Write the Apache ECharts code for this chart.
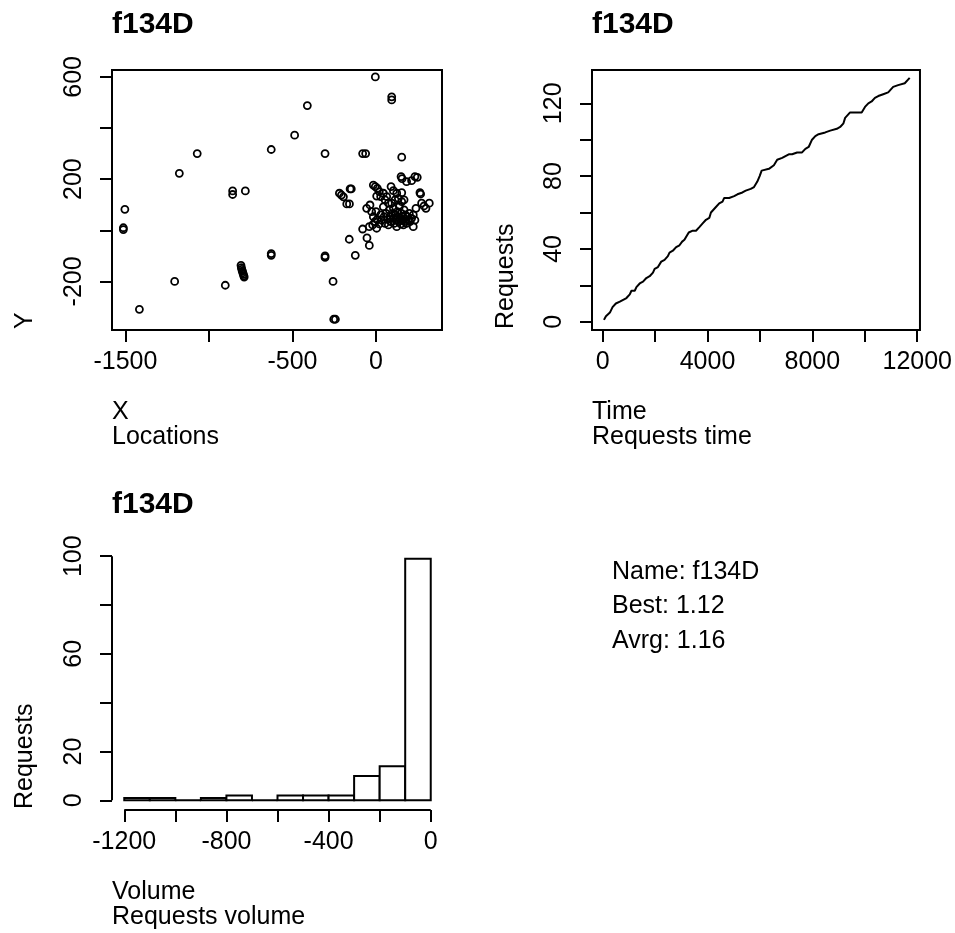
<!DOCTYPE html>
<html>
<head>
<meta charset="utf-8">
<script src="https://cdn.jsdelivr.net/npm/echarts@6/dist/echarts.min.js"></script>
<style>
html,body{margin:0;padding:0;background:#fff;}
#chart{width:955px;height:933px;}
</style>
</head>
<body>
<div id="chart"></div>
<script>
// ---------- data ----------
const chartTitle = "f134D";
// Locations scatter (X, Y)
const locX = [-4,94,94,-411,-487,-627,-305,-80,-62,154,-1070,-1177,-858,-858,-782,-1503,-1512,-1512,-627,-627,-305,-305,-160,-124,-54,-40,-80,
  -808,-806,-803,-800,-797,-794,-791,-789,-1205,-902,-257,-1416,-253,-243,-219,-207,-195,-155,-148,-175,-159,
  -56,-36,-26,-16,-6,4,8,20,28,34,44,48,54,60,68,74,80,84,88,94,100,104,108,114,116,120,124,128,132,136,140,144,148,152,156,160,164,168,172,176,179,183,187,193,199,203,213,223,223,233,104,74,154,168,134,54,28,0,-20,-40,
  4,-16,-4,8,90,150,156,183,213,233,247,263,267,154,273,287,299,319,239,44,64,20,124,104];
const locY = [600,522,510,488,372,316,300,300,300,286,300,223,154,140,154,82,10,3,-91,-98,-100,-106,-35,-98,-30,-59,5,
  -137,-146,-153,-160,-166,-172,-178,-183,-200,-215,-200,-309,-348,-348,145,138,131,162,162,103,103,
  86,99,73,53,34,8,43,25,60,40,92,53,27,66,43,21,80,53,34,106,66,47,27,119,60,40,14,73,53,34,93,47,25,66,40,53,21,80,34,60,43,27,53,40,66,34,47,14,60,40,86,106,112,119,125,119,132,73,21,14,
  134,177,171,164,171,210,202,190,194,210,207,147,142,147,106,95,86,106,86,145,132,151,145,155];
// Requests over time (cumulative count)
const reqTime = [50,125,277,378,504,656,782,909,1035,1098,1225,1288,1414,1540,1667,1793,1920,1983,2109,2235,2362,2488,2551,2678,2804,2931,3032,3120,3284,3436,3562,3689,3815,3941,4068,4131,4194,4321,4447,4573,4637,4826,5016,5142,5332,5458,5648,5774,5900,5989,6065,6343,6532,6658,6848,6974,7101,7227,7417,7606,7733,7859,7986,8112,8238,8491,8681,8933,9060,9186,9249,9439,9628,9881,10007,10134,10260,10386,10513,10702,10892,10955,11082,11271,11524,11650,11713];
const reqCount = [1,3,5,8,10,11,12,13,15,17,17,19,21,22,24,25,27,29,30,33,34,36,38,39,41,42,44,45,49,50,50,52,54,56,57,60,61,63,65,66,68,68,69,70,71,72,73,74,77,80,83,84,86,89,90,91,92,92,93,93,95,96,100,102,103,104,105,106,107,109,112,115,115,115,118,120,121,123,124,125,126,127,129,130,131,133,134];
// Volume histogram
const binStart = [-1200,-1100,-1000,-900,-800,-700,-600,-500,-400,-300,-200,-100];
const binWidth = 100;
const binCount = [1,1,0,1,2,0,2,2,2,10,14,99];
// Tick values and labels
const locXTicks = [-1500,-1000,-500,0];
const locXLabels = [-1500,-500,0];
const locYTicks = [-200,0,200,400,600];
const locYLabels = [-200,200,600];
const timeXTicks = [0,2000,4000,6000,8000,10000,12000];
const timeXLabels = [0,4000,8000,12000];
const timeYTicks = [0,20,40,60,80,100,120];
const timeYLabels = [0,40,80,120];
const volXTicks = [-1200,-1000,-800,-600,-400,-200,0];
const volXLabels = [-1200,-800,-400,0];
const volYTicks = [0,20,40,60,80,100];
const volYLabels = [0,20,60,100];
const infoLines = ["Name: f134D","Best: 1.12","Avrg: 1.16"];

// ---------- chart ----------
const FONT = '"Liberation Sans", Arial, sans-serif';
const FS = 25;
const chart = echarts.init(document.getElementById('chart'), null, {renderer:'canvas'});
const plain = v => String(v);

function xAxisDef(grid, min, max, ticks, labels){
  return {type:'value', gridIndex:grid, min:min, max:max, position:'bottom',
    axisLine:{show:false, onZero:false}, splitLine:{show:false},
    axisTick:{show:true, customValues:ticks, length:12, lineStyle:{color:'#000', width:2}},
    axisLabel:{customValues:labels, formatter:plain, margin:20, fontSize:FS, color:'#000', fontFamily:FONT}};
}
function yAxisDef(grid, min, max, ticks, labels){
  return {type:'value', gridIndex:grid, min:min, max:max, position:'left',
    axisLine:{show:false, onZero:false}, splitLine:{show:false},
    axisTick:{show:true, customValues:ticks, length:12, lineStyle:{color:'#000', width:2}},
    axisLabel:{customValues:labels, formatter:plain, margin:25, rotate:90, fontSize:FS, color:'#000', fontFamily:FONT}};
}

const volXMin = -1248, volXMax = 48, volYMin = -3.96, volYMax = 102.96;

const txt = (t, x, y, extra) => Object.assign({type:'text', x:x, y:y,
  style:{text:t, fill:'#000', font: FS + 'px ' + FONT, align:'left', verticalAlign:'middle'}}, extra||{});
const titleTxt = (x, y) => ({type:'text', x:x, y:y,
  style:{text:chartTitle, fill:'#000', font:'bold 30px ' + FONT, align:'left', verticalAlign:'middle'}});

const graphics = [
  titleTxt(112, 25), titleTxt(592, 25), titleTxt(112, 505),
  txt('X', 112, 412), txt('Locations', 112, 437),
  txt('Time', 592, 412), txt('Requests time', 592, 437),
  txt('Volume', 112, 892), txt('Requests volume', 112, 917),
  txt('Y', 25, 329, {rotation:Math.PI/2}),
  txt('Requests', 506, 329, {rotation:Math.PI/2}),
  txt('Requests', 25, 809, {rotation:Math.PI/2})
];
infoLines.forEach((s,i)=>graphics.push(txt(s, 612, 572 + i*34.5)));

const option = {
  animation:false,
  backgroundColor:'#fff',
  grid:[
    {left:112, top:70, width:330, height:260, show:true, borderColor:'#000', borderWidth:2, backgroundColor:'transparent'},
    {left:592, top:70, width:330, height:260, show:true, borderColor:'#000', borderWidth:2, backgroundColor:'transparent'},
    {left:112, top:549, width:331, height:261, show:false}
  ],
  xAxis:[
    xAxisDef(0, -1580, 395, locXTicks, locXLabels),
    xAxisDef(1, -406, 12104, timeXTicks, timeXLabels),
    xAxisDef(2, volXMin, volXMax, volXTicks, volXLabels)
  ],
  yAxis:[
    yAxisDef(0, -390, 627, locYTicks, locYLabels),
    yAxisDef(1, -4.56, 138.3, timeYTicks, timeYLabels),
    yAxisDef(2, volYMin, volYMax, volYTicks, volYLabels)
  ],
  graphic: graphics,
  series:[
    {type:'scatter', xAxisIndex:0, yAxisIndex:0, symbol:'circle', symbolSize:7,
      data: locX.map((x,i)=>[x, locY[i]]),
      itemStyle:{color:'rgba(0,0,0,0)', borderColor:'#000', borderWidth:1.8, opacity:1}},
    {type:'line', xAxisIndex:1, yAxisIndex:1, showSymbol:false,
      data: reqTime.map((t,i)=>[t, reqCount[i]]),
      lineStyle:{color:'#000', width:2}},
    {type:'custom', xAxisIndex:2, yAxisIndex:2,
      data: binStart.map((b,i)=>[b, b+binWidth, binCount[i]]),
      renderItem:function(params, api){
        const p0 = api.coord([api.value(0), 0]);
        const p1 = api.coord([api.value(1), api.value(2)]);
        return {type:'rect', shape:{x:p0[0], y:p1[1], width:p1[0]-p0[0], height:p0[1]-p1[1]},
          style:{fill:'#fff', stroke:'#000', lineWidth:2}};
      }},
    // R-style axis lines spanning first to last tick
    {type:'line', xAxisIndex:2, yAxisIndex:2, showSymbol:false, clip:false, silent:true,
      data:[[volXTicks[0], volYMin],[volXTicks[volXTicks.length-1], volYMin]],
      lineStyle:{color:'#000', width:2}},
    {type:'line', xAxisIndex:2, yAxisIndex:2, showSymbol:false, clip:false, silent:true,
      data:[[volXMin, volYTicks[0]],[volXMin, volYTicks[volYTicks.length-1]]],
      lineStyle:{color:'#000', width:2}}
  ]
};
chart.setOption(option);
</script>
</body>
</html>
